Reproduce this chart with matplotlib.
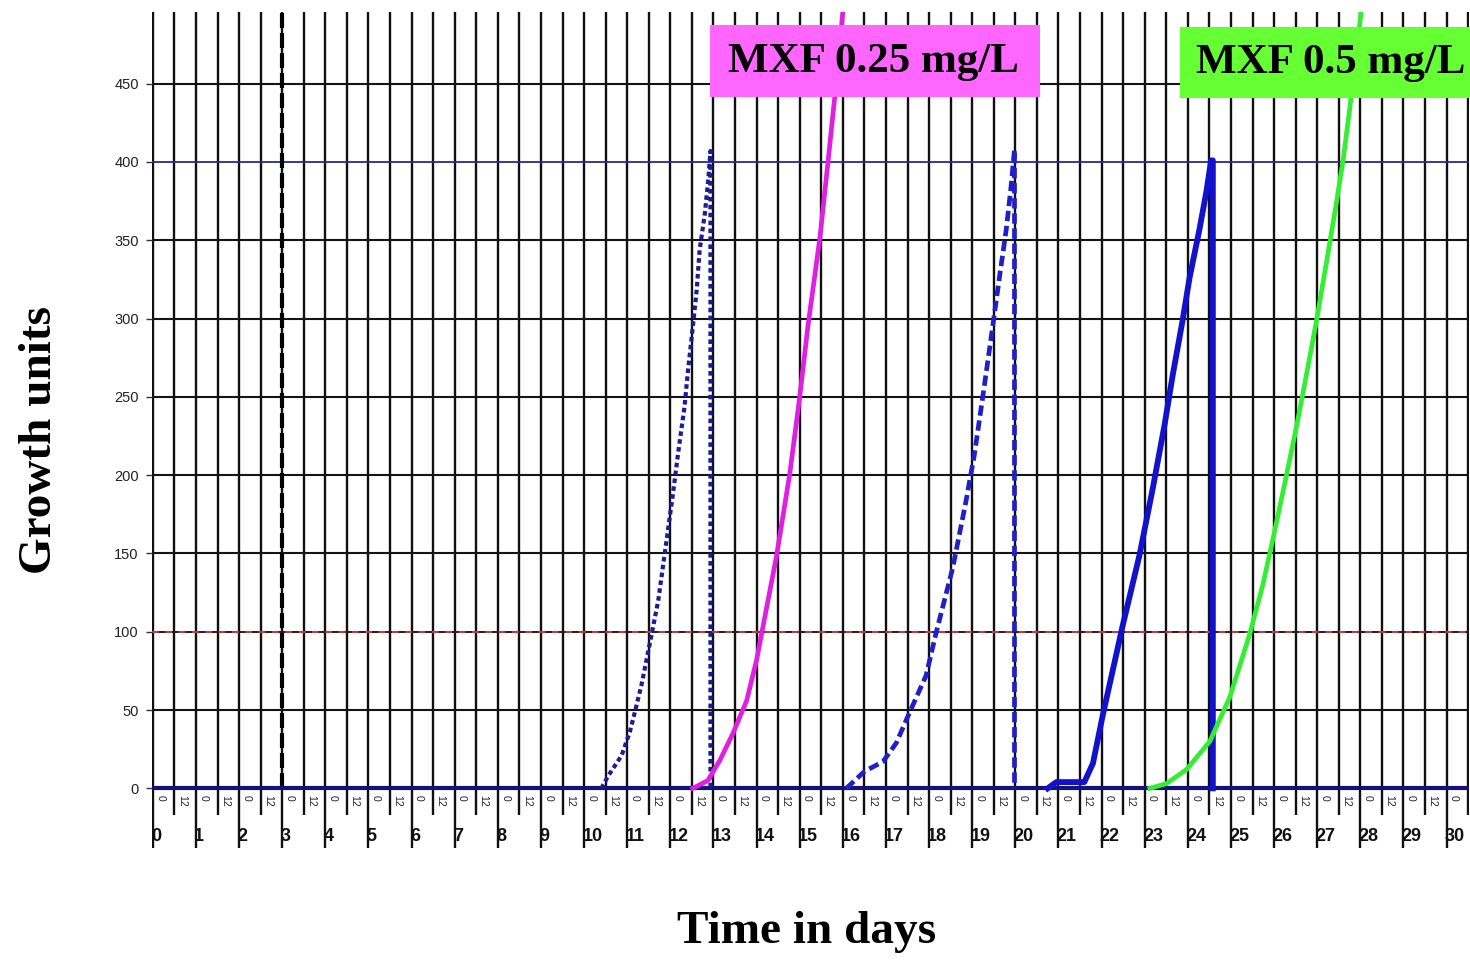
import numpy as np
import matplotlib.pyplot as plt
from matplotlib.patches import Rectangle

# growth curves (day, growth units)
dotted_days = [10.40, 10.56, 10.87, 11.06, 11.18, 11.33, 11.52, 11.72, 11.87, 12.06, 12.18,
               12.33, 12.41, 12.53, 12.61, 12.68, 12.80, 12.88, 12.93, 12.93]
dotted_vals = [0, 8, 21, 36, 49, 66, 92, 120, 150, 188, 214,
               244, 267, 297, 318, 344, 367, 389, 407, 0]

magenta_days = [12.52, 12.87, 13.15, 13.45, 13.77, 14.0, 14.46, 14.77, 15.0,
                15.19, 15.47, 15.66, 15.84, 16.0, 16.02]
magenta_vals = [0, 5, 18, 35, 56, 82, 148, 201, 250,
                295, 352, 401, 449, 496, 505]

dashed_days = [16.08, 16.51, 16.93, 17.24, 17.54, 17.93, 18.16, 18.55, 18.86, 19.05,
               19.25, 19.48, 19.64, 19.79, 19.90, 19.98, 19.98]
dashed_vals = [0, 11, 17, 29, 48, 72, 99, 141, 184, 213,
               251, 296, 328, 357, 384, 408, 0]

solid_days = [20.75, 20.95, 21.60, 21.80, 22.03, 22.49, 22.88, 23.19, 23.46, 23.65,
              23.88, 24.04, 24.27, 24.43, 24.54, 24.58, 24.58]
solid_vals = [0, 4, 4, 16, 47, 104, 149, 192, 232, 264,
              299, 326, 357, 381, 401, 401, 0]

green_days = [23.12, 23.50, 23.97, 24.51, 24.97, 25.43, 25.74, 25.98, 26.28, 26.52,
              26.75, 26.98, 27.21, 27.44, 27.60, 27.75, 27.91, 28.02, 28.04]
green_vals = [0, 3, 12, 30, 58, 98, 130, 160, 199, 231,
              264, 298, 335, 373, 401, 433, 470, 496, 505]

days = list(range(31))
half_labels = ['0', '12']
y_ticks = [0, 50, 100, 150, 200, 250, 300, 350, 400, 450]
black_hlines = [50, 150, 200, 250, 300, 350, 450]

W, H = 1470, 960
fig = plt.figure(figsize=(W / 100, H / 100), dpi=100)
ax = fig.add_axes([152 / W, (H - 851) / H, (1469 - 152) / W, (851 - 11.6) / H])
ax.set_xlim(-0.02, 30.52)
ax.set_ylim(-40, 496)
for s in ax.spines.values():
    s.set_visible(False)
ax.set_xticks([])
ax.set_yticks(y_ticks)
ax.tick_params(axis='y', direction='out', length=4.5, width=1, color='#333333',
               labelsize=10.5, labelcolor='#222222', pad=5)
for lab in ax.get_yticklabels():
    lab.set_family('Liberation Sans')

# vertical grid, every 12 hours
for i in range(62):
    x = i * 0.5
    lo = -38 if i % 2 == 0 else -17
    ax.vlines(x, lo, 496, color='#101010', lw=1.7, zorder=1)

# horizontal grid
for v in black_hlines:
    ax.axhline(v, color='#141414', lw=1.5, zorder=1)
ax.axhline(400, color='#2a2a8a', lw=1.3, zorder=1)
ax.axhline(100, color='#2a1a1a', lw=1.4, zorder=1)
ax.axhline(100, color='#e04040', lw=1.2, ls=(0, (4, 4)), zorder=1)
ax.axhline(0, color='#12127a', lw=3, zorder=3)

# day 3 marker
ax.vlines(3, 0, 496, color='black', lw=3, linestyles=[(0, (3.6, 1.2))], zorder=2)

# curves
ax.plot(dotted_days, dotted_vals, color='#1c1c96', lw=3.0, ls=(0, (1.1, 0.8)), zorder=4)
ax.plot(magenta_days, magenta_vals, color='#e020e0', lw=3.4, zorder=4)
ax.plot(dashed_days, dashed_vals, color='#2020c8', lw=3.4, ls=(0, (2.2, 1.0)), zorder=4)
ax.plot(solid_days, solid_vals, color='#1212cc', lw=4.2, zorder=4)
ax.plot(green_days, green_vals, color='#33ee33', lw=3.4, zorder=4)

# time labels under the axis
for i in range(61):
    ax.text(i * 0.5 + 0.17, -4, half_labels[i % 2], rotation=270, ha='center', va='top',
            fontsize=7.5, color='#222222', family='Liberation Sans')
for d in days:
    ax.text(d - 0.04, -31, str(d), ha='left', va='center', fontsize=13,
            fontweight='bold', color='#111111', family='Liberation Sans')

fig.text(40 / W, 1 - 440 / H, 'Growth units', rotation=90, ha='center', va='center',
         fontsize=34, fontweight='bold', family='Liberation Serif')
fig.text(807 / W, 1 - 932 / H, 'Time in days', ha='center', va='center',
         fontsize=34, fontweight='bold', family='Liberation Serif')

# concentration boxes
fig.add_artist(Rectangle((710 / W, 1 - 97 / H), 330 / W, 72 / H, transform=fig.transFigure,
                         fc='#ff66ff', ec='none', zorder=5))
fig.text(873 / W, 1 - 62 / H, 'MXF 0.25 mg/L', ha='center', va='center', fontsize=31,
         fontweight='bold', family='Liberation Serif', zorder=6)
fig.add_artist(Rectangle((1180 / W, 1 - 98 / H), 290 / W, 71 / H, transform=fig.transFigure,
                         fc='#66ff33', ec='none', zorder=5))
fig.text(1331 / W, 1 - 63 / H, 'MXF 0.5 mg/L', ha='center', va='center', fontsize=31,
         fontweight='bold', family='Liberation Serif', zorder=6)

fig.savefig('out.png', dpi=100)
